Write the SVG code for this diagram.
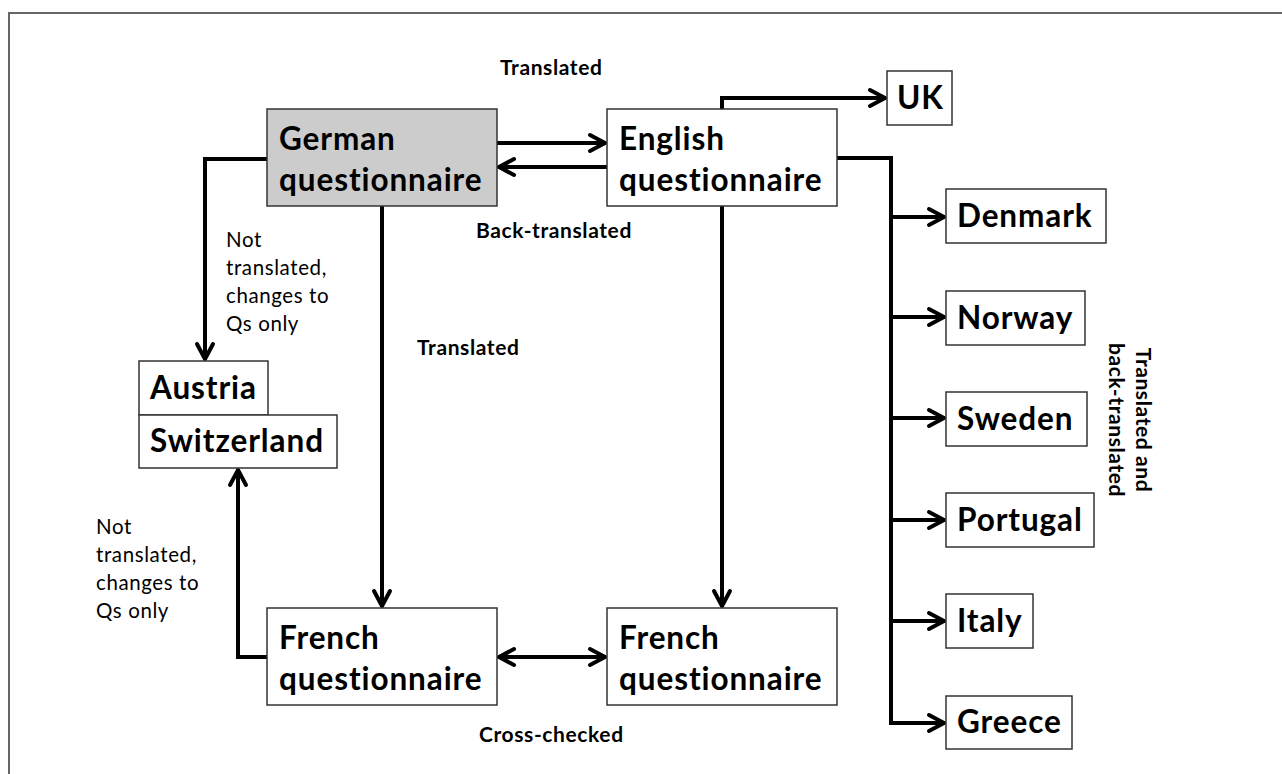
<svg xmlns="http://www.w3.org/2000/svg" width="1282" height="774" viewBox="0 0 1282 774">
<style>
.frame{fill:none;stroke:#666;stroke-width:2}
.box{fill:#fff;stroke:#333;stroke-width:1.5}
.grey{fill:#cccccc}
.nt{font-family:Lato,"Open Sans","Liberation Sans",sans-serif;font-weight:bold;font-size:31.5px;letter-spacing:0.9px;fill:#000}
.lb{font-family:Lato,"Open Sans","Liberation Sans",sans-serif;font-weight:bold;font-size:21px;letter-spacing:0.6px;fill:#000}
.nb{font-family:Lato,"Open Sans","Liberation Sans",sans-serif;font-size:20.5px;letter-spacing:0.6px;fill:#000}
.cn{fill:none;stroke:#000;stroke-width:4;stroke-linejoin:miter}
</style>
<defs>
<marker id="ah" viewBox="-20 -12 24 24" refX="0" refY="0" markerWidth="24" markerHeight="24" markerUnits="userSpaceOnUse" orient="auto-start-reverse">
<path d="M-16,-8 L-1,0 L-16,8" fill="none" stroke="#000" stroke-width="4" stroke-linecap="round" stroke-linejoin="round"/>
</marker>
</defs>
<rect class="frame" x="9" y="13" width="1300" height="800"/>
<g id="connectors">
<path class="cn" d="M497,143 H606" marker-end="url(#ah)"/>
<path class="cn" d="M607,167 H498" marker-end="url(#ah)"/>
<path class="cn" d="M722,109 V98 H886" marker-end="url(#ah)"/>
<path class="cn" d="M837,158 H891 V723 H945" marker-end="url(#ah)"/>
<path class="cn" d="M891,217 H945" marker-end="url(#ah)"/>
<path class="cn" d="M891,317 H945" marker-end="url(#ah)"/>
<path class="cn" d="M891,418 H945" marker-end="url(#ah)"/>
<path class="cn" d="M891,520 H945" marker-end="url(#ah)"/>
<path class="cn" d="M891,621 H945" marker-end="url(#ah)"/>
<path class="cn" d="M267,159 H205 V360" marker-end="url(#ah)"/>
<path class="cn" d="M382,206 V607" marker-end="url(#ah)"/>
<path class="cn" d="M722,206 V607" marker-end="url(#ah)"/>
<path class="cn" d="M498,657 H606" marker-start="url(#ah)" marker-end="url(#ah)"/>
<path class="cn" d="M267,657 H238 V469" marker-end="url(#ah)"/>
</g>
<g id="labels">
<text class="lb" x="500" y="75">Translated</text>
<text class="lb" x="476" y="238">Back-translated</text>
<text class="lb" x="417" y="355">Translated</text>
<text class="lb" x="479" y="742">Cross-checked</text>
<text class="nb"><tspan x="226" y="247">Not</tspan><tspan x="226" y="275">translated,</tspan><tspan x="226" y="303">changes to</tspan><tspan x="226" y="331">Qs only</tspan></text>
<text class="nb"><tspan x="96" y="534">Not</tspan><tspan x="96" y="562">translated,</tspan><tspan x="96" y="590">changes to</tspan><tspan x="96" y="618">Qs only</tspan></text>
<text class="lb" transform="translate(1136,420) rotate(90)" text-anchor="middle"><tspan x="0" y="0">Translated and</tspan><tspan x="0" y="27">back-translated</tspan></text>
</g>
<g id="german"><rect class="box grey" x="267" y="109" width="230" height="97"/><text class="nt"><tspan x="279" y="150">German</tspan><tspan x="279" y="191">questionnaire</tspan></text></g>
<g id="english"><rect class="box" x="607" y="109" width="230" height="97"/><text class="nt"><tspan x="619" y="150">English</tspan><tspan x="619" y="191">questionnaire</tspan></text></g>
<g id="uk"><rect class="box" x="887" y="71" width="65" height="54"/><text class="nt" x="897" y="109">UK</text></g>
<g id="denmark"><rect class="box" x="946" y="189" width="160" height="54"/><text class="nt" x="957" y="227">Denmark</text></g>
<g id="norway"><rect class="box" x="946" y="291" width="139" height="54"/><text class="nt" x="957" y="329">Norway</text></g>
<g id="sweden"><rect class="box" x="946" y="392" width="141" height="54"/><text class="nt" x="957" y="430">Sweden</text></g>
<g id="portugal"><rect class="box" x="946" y="493" width="148" height="54"/><text class="nt" x="957" y="531">Portugal</text></g>
<g id="italy"><rect class="box" x="946" y="594" width="87" height="54"/><text class="nt" x="957" y="632">Italy</text></g>
<g id="greece"><rect class="box" x="946" y="696" width="126" height="53"/><text class="nt" x="957" y="733">Greece</text></g>
<g id="austria"><rect class="box" x="139" y="361" width="129" height="54"/><text class="nt" x="150" y="399">Austria</text></g>
<g id="switzerland"><rect class="box" x="139" y="415" width="198" height="53"/><text class="nt" x="150" y="452">Switzerland</text></g>
<g id="french1"><rect class="box" x="267" y="608" width="230" height="97"/><text class="nt"><tspan x="279" y="649">French</tspan><tspan x="279" y="690">questionnaire</tspan></text></g>
<g id="french2"><rect class="box" x="607" y="608" width="230" height="97"/><text class="nt"><tspan x="619" y="649">French</tspan><tspan x="619" y="690">questionnaire</tspan></text></g>
</svg>
